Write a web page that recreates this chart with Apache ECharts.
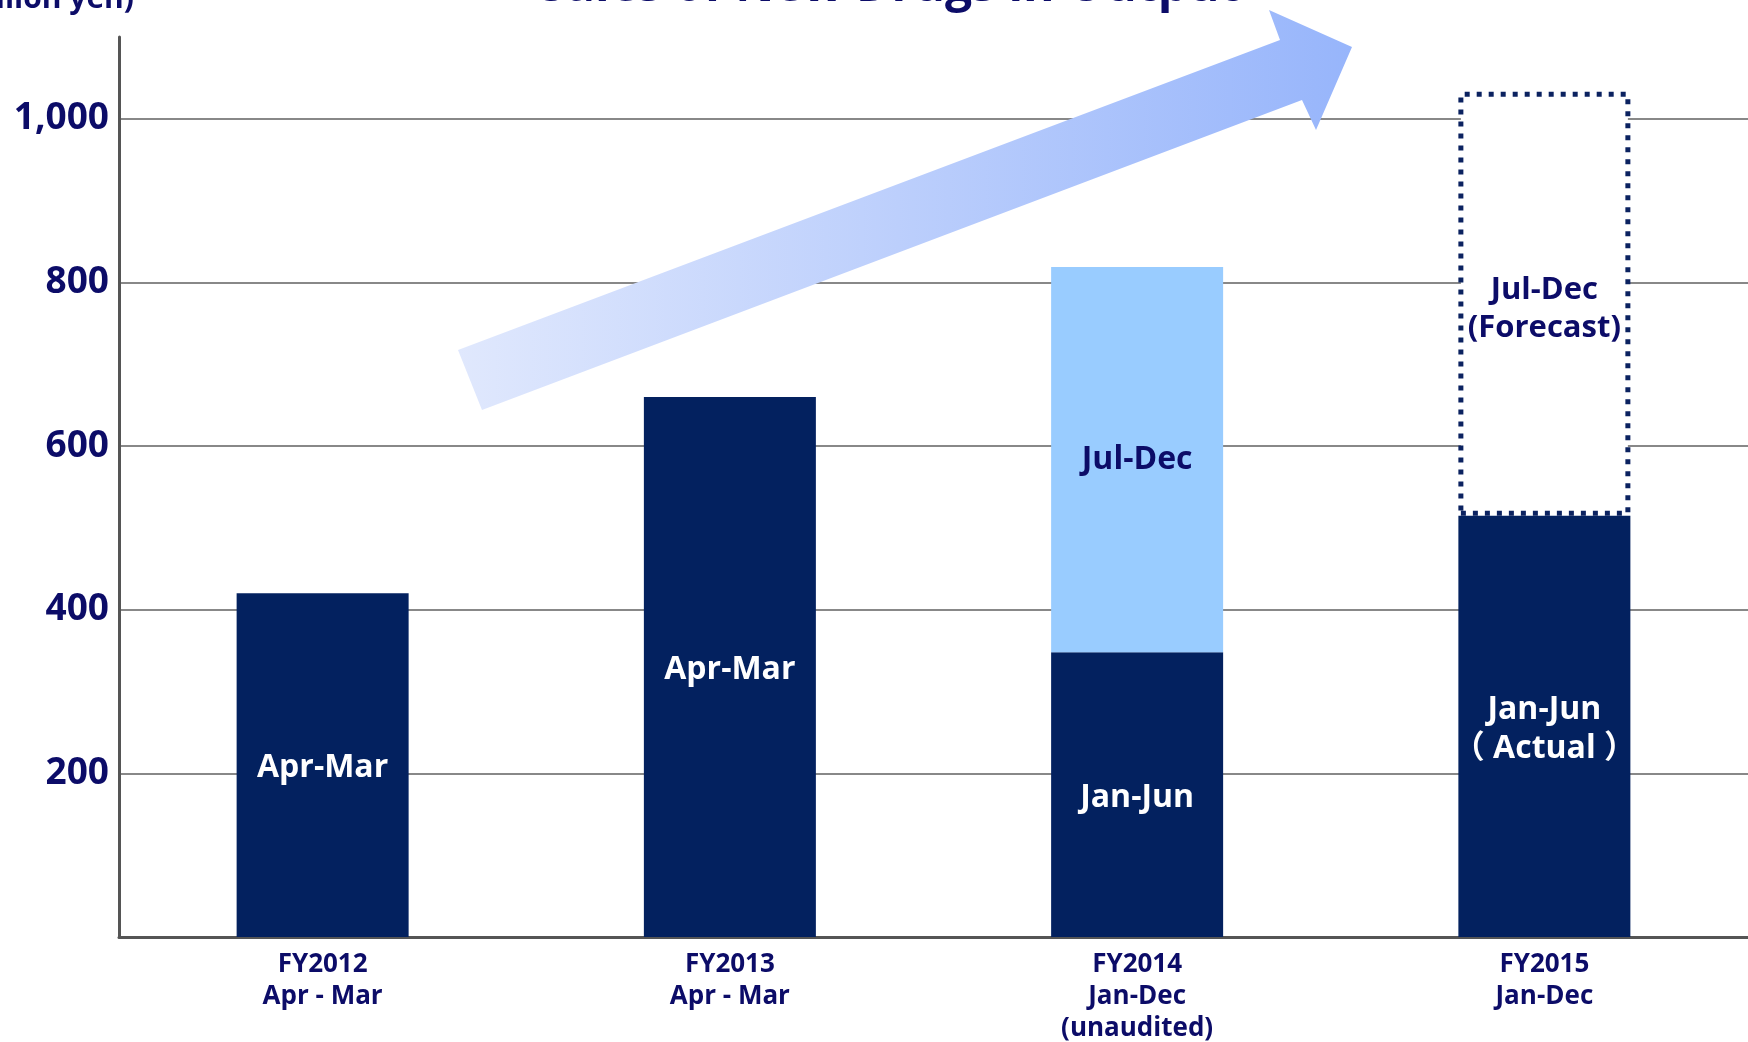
<!DOCTYPE html>
<html>
<head>
<meta charset="utf-8">
<title>Sales of New Drugs</title>
<script src="https://cdn.jsdelivr.net/npm/echarts@6/dist/echarts.min.js"></script>
<style>
  html, body { margin: 0; padding: 0; background: #fff; }
  #chart { width: 1748px; height: 1042px; }
</style>
</head>
<body>
<div id="chart"></div>
<script>
// --- data (million yen) ---
const categories = ['FY2012\nApr - Mar', 'FY2013\nApr - Mar', 'FY2014\nJan-Dec\n(unaudited)', 'FY2015\nJan-Dec'];
const firstPart = [420, 660, 348, 515];          // whole year / Jan-Jun
const firstPartLabels = ['Apr-Mar', 'Apr-Mar', 'Jan-Jun', 'Jan-Jun\n（ Actual ）'];
const julDec = ['-', '-', 471, '-'];
const forecast = ['-', '-', '-', 518];
const yTicks = [200, 400, 600, 800, 1000];

const NAVY = '#03215f';
const TEXT = '#0c0c68';
const FONT = "'Open Sans', 'Noto Sans CJK JP', sans-serif";

const chart = echarts.init(document.getElementById('chart'));

chart.setOption({
  animation: false,
  textStyle: { fontFamily: FONT },
  grid: { left: 119, right: 0, top: 37, bottom: 105, outerBoundsMode: 'none', containLabel: false },
  xAxis: {
    type: 'category',
    data: categories,
    axisLine: { lineStyle: { color: '#555', width: 3 } },
    axisTick: { show: false },
    axisLabel: {
      interval: 0,
      margin: 12,
      color: TEXT,
      fontSize: 26,
      fontWeight: 'bold',
      fontFamily: FONT,
      lineHeight: 32
    }
  },
  yAxis: {
    type: 'value',
    min: 0,
    max: 1100,
    interval: 200,
    axisLine: { show: true, lineStyle: { color: '#555', width: 3 } },
    axisTick: { show: false },
    axisLabel: {
      margin: 10,
      color: TEXT,
      fontSize: 37,
      fontWeight: 'bold',
      fontFamily: FONT,
      formatter: function (v) {
        return yTicks.indexOf(v) >= 0 ? v.toLocaleString('en-US') : '';
      }
    },
    splitLine: {
      show: true,
      showMinLine: false,
      showMaxLine: false,
      lineStyle: { color: '#888', width: 2 }
    }
  },
  series: [
    {
      name: 'Main',
      type: 'bar',
      stack: 'total',
      barWidth: 172,
      data: firstPart,
      itemStyle: { color: NAVY },
      label: {
        show: true,
        position: 'inside',
        offset: [0, 3],
        color: '#fff',
        fontSize: 32,
        fontWeight: 'bold',
        fontFamily: FONT,
        lineHeight: 39,
        formatter: function (p) { return firstPartLabels[p.dataIndex]; }
      }
    },
    {
      name: 'Jul-Dec',
      type: 'bar',
      stack: 'total',
      barWidth: 172,
      data: julDec,
      itemStyle: { color: '#99ccff' },
      label: {
        show: true,
        position: 'inside',
        color: TEXT,
        fontSize: 32,
        fontWeight: 'bold',
        fontFamily: FONT,
        formatter: 'Jul-Dec'
      }
    },
    {
      name: 'Forecast',
      type: 'bar',
      stack: 'total',
      barWidth: 172,
      data: forecast,
      itemStyle: {
        color: '#fff',
        borderColor: '#0b2260',
        borderWidth: 5,
        borderType: [5, 7]
      },
      label: {
        show: true,
        position: 'inside',
        offset: [0, 5],
        color: TEXT,
        fontSize: 31,
        fontWeight: 'bold',
        fontFamily: FONT,
        lineHeight: 38,
        formatter: 'Jul-Dec\n(Forecast)'
      }
    }
  ],
  graphic: [
    {
      type: 'polygon',
      z: 10,
      shape: {
        points: [[458, 350], [1280, 40], [1269, 10], [1352, 47], [1316, 130], [1302, 100], [482, 410]]
      },
      style: {
        fill: new echarts.graphic.LinearGradient(0, 0, 1, 0, [
          { offset: 0, color: '#e0e8fd' },
          { offset: 1, color: '#97b5fb' }
        ])
      }
    },
    {
      type: 'text',
      z: 10,
      x: 890,
      y: -13,
      style: {
        text: 'Sales of New Drugs in Output',
        fill: TEXT,
        font: "bold 48px 'Open Sans', sans-serif",
        textAlign: 'center',
        textVerticalAlign: 'middle'
      }
    },
    {
      type: 'text',
      z: 10,
      x: 134,
      y: -1,
      style: {
        text: '(Million yen)',
        fill: TEXT,
        font: "bold 30px 'Open Sans', sans-serif",
        textAlign: 'right',
        textVerticalAlign: 'middle'
      }
    }
  ]
});
</script>
</body>
</html>
